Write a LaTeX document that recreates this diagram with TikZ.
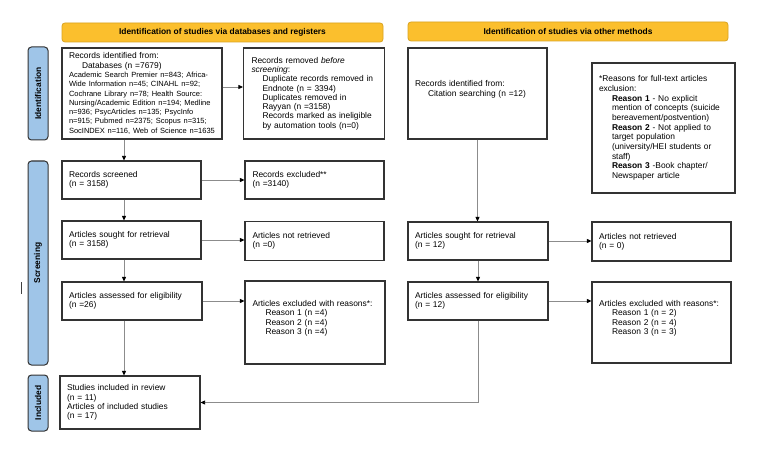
\documentclass[tikz,border=0pt]{standalone}
\usepackage{fontspec}
\setmainfont{Liberation Sans}
\usetikzlibrary{arrows.meta}
\definecolor{hdr}{HTML}{FBBF2D}
\definecolor{hdrline}{HTML}{D9A320}
\definecolor{side}{HTML}{9FC5E8}
\definecolor{boxline}{HTML}{333333}
\definecolor{conn}{HTML}{8C8C8C}
\newcommand\dbfont{\fontsize{7.5}{9.3}\selectfont}
\newcommand\ind{\hspace*{13pt}}
\begin{document}
\begin{tikzpicture}[x=1pt,y=-1pt,
  bx/.style={draw=boxline, line width=1.1pt, fill=white, align=left, inner xsep=7pt, inner ysep=0pt, font=\fontsize{8.4}{9.3}\selectfont, anchor=center},
  hdrbox/.style={draw=hdrline, fill=hdr, rounded corners=3pt, line width=0.8pt, font=\bfseries\fontsize{8.4}{9}\selectfont, inner sep=0pt},
  sidebox/.style={draw=boxline, fill=side, rounded corners=3.5pt, line width=1pt, font=\bfseries\fontsize{8.4}{9}\selectfont, inner sep=0pt},
  arr/.style={draw=conn, line width=0.8pt, -{Triangle[length=4.5pt,width=4pt,color=black]}}
]
\useasboundingbox (0,0) rectangle (759,457);
\fill[white] (0,0) rectangle (759,457);

% headers
\node[hdrbox, minimum width=321pt, minimum height=19pt] (hL) at (222.5,32.5) {Identification of studies via databases and registers};
\node[hdrbox, minimum width=320pt, minimum height=19pt] (hR) at (568,31.5) {Identification of studies via other methods};

% side labels
\node[sidebox, rotate=90, minimum width=93pt, minimum height=20pt] (sI) at (38,93.5) {Identification};
\node[sidebox, rotate=90, minimum width=204pt, minimum height=20pt] (sS) at (38,263) {Screening};
\node[sidebox, rotate=90, minimum width=56pt, minimum height=20pt] (sN) at (38,403) {Included};

% left column
\node[bx, text width=146pt, minimum height=91pt] (ident) at (142,93.5) {Records identified from:\\
\ind Databases (n =7679)\\
\dbfont Academic Search Premier n=843; Africa-\\
\dbfont Wide Information n=45; CINAHL n=92;\\
\dbfont Cochrane Library n=78; Health Source:\\
\dbfont Nursing/Academic Edition n=194; Medline\\
\dbfont n=936; PsycArticles n=135; PsycInfo\\
\dbfont n=915; Pubmed n=2375; Scopus n=315;\\
\dbfont SocINDEX n=116, Web of Science n=1635};

\node[bx, text width=125pt, inner xsep=8pt, minimum height=91pt] (removed) at (314,93.5) {Records removed \textit{before}\\
\textit{screening}:\\
\hspace*{11pt}Duplicate records removed in\\
\hspace*{11pt}Endnote (n = 3394)\\
\hspace*{11pt}Duplicates removed in\\
\hspace*{11pt}Rayyan (n =3158)\\
\hspace*{11pt}Records marked as ineligible\\
\hspace*{11pt}by automation tools (n=0)};

\node[bx, text width=125pt, minimum height=38pt] (screened) at (131.5,180) {Records screened\\(n = 3158)};
\node[bx, text width=124pt, inner xsep=7.5pt, minimum height=38pt] (excl1) at (314.5,180) {Records excluded**\\(n =3140)};

\node[bx, text width=125pt, minimum height=38pt] (sought) at (131.5,240) {Articles sought for retrieval\\(n = 3158)};
\node[bx, text width=124pt, inner xsep=7.5pt, minimum height=39pt] (notret) at (314.5,241) {Articles not retrieved\\(n =0)};

\node[bx, text width=126pt, minimum height=38pt] (assessed) at (132,301) {Articles assessed for eligibility\\(n =26)};
\node[bx, text width=125pt, inner xsep=7.5pt, minimum height=83pt] (excl2) at (315,322.5) {Articles excluded with reasons*:\\
\ind Reason 1 (n =4)\\
\ind Reason 2 (n =4)\\
\ind Reason 3 (n =4)\\[1pt]\mbox{}};

\node[bx, text width=126pt, minimum height=53pt] (studies) at (130,402.5) {Studies included in review\\(n = 11)\\Articles of included studies\\(n = 17)};

% right column
\node[bx, text width=125pt, minimum height=91pt] (cite) at (477.5,93.5) {Records identified from:\\
\ind Citation searching (n =12)\\[1pt]\mbox{}};

\node[bx, text width=129pt, minimum height=130pt, font=\fontsize{8.4}{9.7}\selectfont] (reasons) at (663.5,128) {*Reasons for full-text articles\\
exclusion:\\
\ind\textbf{Reason 1} - No explicit\\
\ind mention of concepts (suicide\\
\ind bereavement/postvention)\\
\ind\textbf{Reason 2} - Not applied to\\
\ind target population\\
\ind (university/HEI students or\\
\ind staff)\\
\ind\textbf{Reason 3} -Book chapter/\\
\ind Newspaper article};

\node[bx, text width=126pt, minimum height=38pt] (soughtR) at (478,241) {Articles sought for retrieval\\(n = 12)};
\node[bx, text width=125pt, minimum height=39pt] (notretR) at (661.5,241.5) {Articles not retrieved\\(n = 0)};

\node[bx, text width=126pt, minimum height=38pt] (assessedR) at (478,301) {Articles assessed for eligibility\\(n = 12)};
\node[bx, text width=125pt, minimum height=81pt] (excl2R) at (661.5,322.5) {Articles excluded with reasons*:\\
\ind Reason 1 (n = 2)\\
\ind Reason 2 (n = 4)\\
\ind Reason 3 (n = 3)\\[1pt]\mbox{}};

% connectors
\coordinate (colL) at (124,0);
\draw[arr] (ident.south -| colL) -- (screened.north -| colL);
\draw[arr] (screened.south -| colL) -- (sought.north -| colL);
\draw[arr] (sought.south -| colL) -- (assessed.north -| colL);
\draw[arr] (assessed.south -| colL) -- (studies.north -| colL);
\draw[arr] ([yshift=6.5pt]ident.east) -- ([yshift=6.5pt]removed.west);
\draw[arr] (screened.east) -- (excl1.west |- screened.east);
\draw[arr] (sought.east) -- (notret.west |- sought.east);
\draw[arr] (assessed.east) -- (excl2.west |- assessed.east);

\draw[arr] (cite.south) -- (cite.south |- soughtR.north);
\draw[arr] (soughtR.east) -- (notretR.west |- soughtR.east);
\draw[arr] (soughtR.south) -- (soughtR.south |- assessedR.north);
\draw[arr] (assessedR.east) -- (excl2R.west |- assessedR.east);
\draw[arr] (assessedR.south) |- (studies.east);

% stray mark
\draw[line width=0.8pt, black!75] (21,282) -- (21,294);
\end{tikzpicture}
\end{document}
